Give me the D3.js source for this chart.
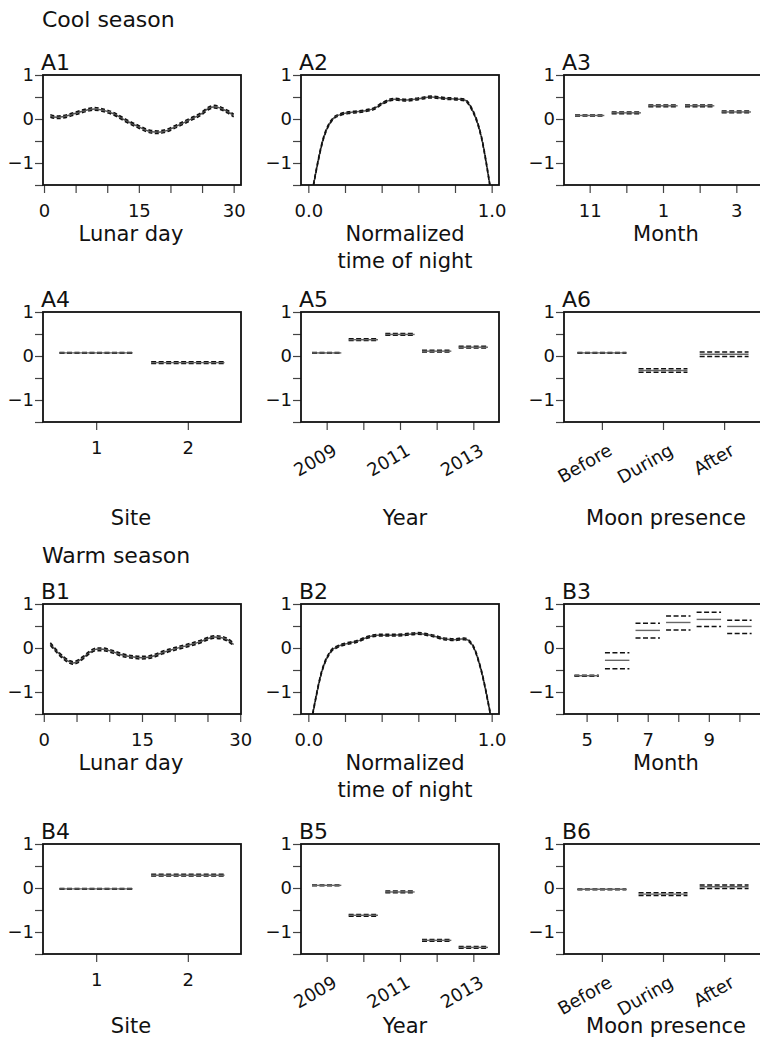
<!DOCTYPE html>
<html>
<head>
<meta charset="utf-8">
<script src="https://cdn.jsdelivr.net/npm/d3@7"></script>
<style>
  body { margin: 0; background: #fff; }
  text { font-family: "DejaVu Sans", sans-serif; fill: #111; }
</style>
</head>
<body>
<script>
// ---- data ----
// shared y axis
var yTicks = [1, 0.5, 0, -0.5, -1, -1.5];
var yLabels = ['1', '', '0', '', '\u22121', ''];

// lunar day panels
var lunarTicks = [0, 5, 10, 15, 20, 25, 30];
var lunarLabels = ['0', '', '', '15', '', '', '30'];
var a1Day = [1, 2, 3, 5, 7, 8, 9, 11, 13, 15, 17, 18, 19, 21, 23, 25, 26, 27, 28, 29, 30];
var a1Fit = [0.07, 0.04, 0.05, 0.13, 0.21, 0.23, 0.21, 0.12, -0.04, -0.18, -0.29, -0.30, -0.28, -0.16, -0.02, 0.13, 0.24, 0.28, 0.24, 0.17, 0.08];
var a1Se = [0.03, 0.03, 0.03, 0.03, 0.03, 0.03, 0.03, 0.03, 0.03, 0.03, 0.03, 0.03, 0.03, 0.03, 0.03, 0.03, 0.03, 0.03, 0.03, 0.03, 0.03];
var b1Day = [1, 2, 3, 4, 4.5, 5, 6, 7, 8, 9, 10, 11, 12, 14, 15, 16, 17, 18, 20, 22, 24, 25, 26, 27, 28, 29];
var b1Fit = [0.09, -0.08, -0.22, -0.32, -0.34, -0.32, -0.22, -0.10, -0.03, -0.03, -0.06, -0.11, -0.16, -0.21, -0.22, -0.21, -0.17, -0.11, -0.02, 0.06, 0.15, 0.21, 0.25, 0.24, 0.19, 0.08];
var b1Se = [0.03, 0.03, 0.03, 0.03, 0.03, 0.03, 0.03, 0.03, 0.03, 0.03, 0.03, 0.03, 0.03, 0.03, 0.03, 0.03, 0.03, 0.03, 0.03, 0.03, 0.03, 0.03, 0.03, 0.03, 0.03, 0.03];

// normalized time of night panels
var timeTicks = [0, 0.2, 0.4, 0.6, 0.8, 1.0];
var timeLabels = ['0.0', '', '', '', '', '1.0'];
var a2Time = [0.028, 0.083, 0.138, 0.174, 0.23, 0.30, 0.36, 0.41, 0.47, 0.54, 0.60, 0.67, 0.74, 0.82, 0.853, 0.89, 0.945, 0.99];
var a2Fit = [-1.5, -0.43, 0.02, 0.10, 0.15, 0.18, 0.24, 0.37, 0.45, 0.43, 0.46, 0.50, 0.47, 0.45, 0.43, 0.24, -0.43, -1.5];
var a2Se = [0.02, 0.02, 0.02, 0.02, 0.02, 0.02, 0.02, 0.02, 0.02, 0.02, 0.02, 0.02, 0.02, 0.02, 0.02, 0.02, 0.02, 0.02];
var b2Time = [0.024, 0.073, 0.128, 0.159, 0.21, 0.265, 0.32, 0.375, 0.45, 0.52, 0.594, 0.667, 0.74, 0.795, 0.85, 0.896, 0.94, 0.993];
var b2Fit = [-1.5, -0.54, -0.05, 0.03, 0.10, 0.15, 0.24, 0.29, 0.29, 0.30, 0.33, 0.29, 0.21, 0.19, 0.21, 0.06, -0.46, -1.5];
var b2Se = [0.02, 0.02, 0.02, 0.02, 0.02, 0.02, 0.02, 0.02, 0.02, 0.02, 0.02, 0.02, 0.02, 0.02, 0.02, 0.02, 0.02, 0.02];

// month
var a3Labels = ['11', '', '1', '', '3'];
var a3Fit = [0.08, 0.14, 0.30, 0.30, 0.16];
var a3Lo = [0.07, 0.12, 0.28, 0.28, 0.14];
var a3Hi = [0.09, 0.16, 0.32, 0.32, 0.18];
var b3Labels = ['5', '', '7', '', '9', ''];
var b3Fit = [-0.63, -0.28, 0.40, 0.58, 0.65, 0.49];
var b3Lo = [-0.64, -0.47, 0.23, 0.41, 0.49, 0.33];
var b3Hi = [-0.62, -0.11, 0.56, 0.73, 0.81, 0.63];

// site
var siteLabels = ['1', '2'];
var a4Fit = [0.07, -0.15];
var a4Lo = [0.06, -0.17];
var a4Hi = [0.08, -0.13];
var b4Fit = [-0.02, 0.29];
var b4Lo = [-0.03, 0.27];
var b4Hi = [-0.01, 0.31];

// year
var yearLabels = ['2009', '', '2011', '', '2013'];
var a5Fit = [0.07, 0.37, 0.49, 0.11, 0.20];
var a5Lo = [0.06, 0.35, 0.47, 0.09, 0.18];
var a5Hi = [0.08, 0.39, 0.51, 0.13, 0.22];
var b5Fit = [0.06, -0.62, -0.09, -1.19, -1.35];
var b5Lo = [0.05, -0.64, -0.11, -1.21, -1.37];
var b5Hi = [0.07, -0.60, -0.07, -1.17, -1.33];

// moon presence
var moonLabels = ['Before', 'During', 'After'];
var a6Fit = [0.07, -0.33, 0.04];
var a6Lo = [0.06, -0.37, -0.01];
var a6Hi = [0.08, -0.29, 0.09];
var b6Fit = [-0.03, -0.14, 0.03];
var b6Lo = [-0.04, -0.17, -0.01];
var b6Hi = [-0.02, -0.11, 0.07];

//general setup
var W = 760, H = 1040;
var colX = [43, 301, 564];
var rowTop = [75, 312, 604, 844];
var boxW = 198, boxH = 110;
var titleOffset = [56, 103, 56, 79];
var titleX = [131, 405, 666];

var svg = d3.select('body').append('svg').attr('width', W).attr('height', H);

var panels = [
  { id: 'A1', col: 0, row: 0, kind: 'curve', xs: a1Day, fit: a1Fit, se: a1Se, dom: [-0.16, 31.16], ticks: lunarTicks, labels: lunarLabels, title: ['Lunar day'] },
  { id: 'A2', col: 1, row: 0, kind: 'curve', xs: a2Time, fit: a2Fit, se: a2Se, dom: [-0.04, 1.04], ticks: timeTicks, labels: timeLabels, title: ['Normalized', 'time of night'] },
  { id: 'A3', col: 2, row: 0, kind: 'cat', fit: a3Fit, lo: a3Lo, hi: a3Hi, labels: a3Labels, title: ['Month'] },
  { id: 'A4', col: 0, row: 1, kind: 'cat', fit: a4Fit, lo: a4Lo, hi: a4Hi, labels: siteLabels, title: ['Site'] },
  { id: 'A5', col: 1, row: 1, kind: 'cat', fit: a5Fit, lo: a5Lo, hi: a5Hi, labels: yearLabels, rotate: true, title: ['Year'] },
  { id: 'A6', col: 2, row: 1, kind: 'cat', fit: a6Fit, lo: a6Lo, hi: a6Hi, labels: moonLabels, rotate: true, title: ['Moon presence'] },
  { id: 'B1', col: 0, row: 2, kind: 'curve', xs: b1Day, fit: b1Fit, se: b1Se, dom: [-0.12, 30.12], ticks: lunarTicks, labels: lunarLabels, title: ['Lunar day'] },
  { id: 'B2', col: 1, row: 2, kind: 'curve', xs: b2Time, fit: b2Fit, se: b2Se, dom: [-0.04, 1.04], ticks: timeTicks, labels: timeLabels, title: ['Normalized', 'time of night'] },
  { id: 'B3', col: 2, row: 2, kind: 'cat', fit: b3Fit, lo: b3Lo, hi: b3Hi, labels: b3Labels, title: ['Month'] },
  { id: 'B4', col: 0, row: 3, kind: 'cat', fit: b4Fit, lo: b4Lo, hi: b4Hi, labels: siteLabels, title: ['Site'] },
  { id: 'B5', col: 1, row: 3, kind: 'cat', fit: b5Fit, lo: b5Lo, hi: b5Hi, labels: yearLabels, rotate: true, title: ['Year'] },
  { id: 'B6', col: 2, row: 3, kind: 'cat', fit: b6Fit, lo: b6Lo, hi: b6Hi, labels: moonLabels, rotate: true, title: ['Moon presence'] }
];

//section titles
svg.append('text').attr('x', 42).attr('y', 27).style('font-size', '22px').text('Cool season');
svg.append('text').attr('x', 42).attr('y', 563).style('font-size', '22px').text('Warm season');

var yScale = d3.scaleLinear().domain([-1.5, 1]).range([boxH, 0]);

panels.forEach(function (p) {
  var g = svg.append('g').attr('transform', 'translate(' + colX[p.col] + ',' + rowTop[p.row] + ')');

  var xScale, tickVals;
  if (p.kind === 'curve') {
    xScale = d3.scaleLinear().domain(p.dom).range([0, boxW]);
    tickVals = p.ticks;
  } else {
    var n = p.fit.length, pad = n * 0.04;
    xScale = d3.scaleLinear().domain([0.5 - pad, n + 0.5 + pad]).range([0, boxW]);
    tickVals = d3.range(1, n + 1);
  }

  //clip
  g.append('clipPath').attr('id', 'clip' + p.id).append('rect').attr('width', boxW).attr('height', boxH);
  var plot = g.append('g').attr('clip-path', 'url(#clip' + p.id + ')');

  if (p.kind === 'curve') {
    var pts = p.xs.map(function (d, i) { return { x: d, f: p.fit[i], lo: p.fit[i] - p.se[i], hi: p.fit[i] + p.se[i] }; });
    var line = function (key) {
      return d3.line().curve(d3.curveMonotoneX).x(function (d) { return xScale(d.x); }).y(function (d) { return yScale(d[key]); });
    };
    plot.append('path').datum(pts).attr('d', line('f')).attr('fill', 'none').attr('stroke', '#555').attr('stroke-width', 1.5);
    ['lo', 'hi'].forEach(function (k) {
      plot.append('path').datum(pts).attr('d', line(k)).attr('fill', 'none').attr('stroke', '#111')
        .attr('stroke-width', 1.5).attr('stroke-dasharray', '4,2.5');
    });
  } else {
    var segs = p.fit.map(function (d, i) { return { c: i + 1, f: d, lo: p.lo[i], hi: p.hi[i] }; });
    ['lo', 'hi'].forEach(function (k) {
      plot.selectAll('.seg' + k).data(segs).enter().append('line')
        .attr('x1', function (d) { return xScale(d.c - 0.4); })
        .attr('x2', function (d) { return xScale(d.c + 0.4); })
        .attr('y1', function (d) { return yScale(d[k]); })
        .attr('y2', function (d) { return yScale(d[k]); })
        .attr('stroke', '#111').attr('stroke-width', 1.5).attr('stroke-dasharray', '5,2.5');
    });
    plot.selectAll('.segf').data(segs).enter().append('line')
      .attr('x1', function (d) { return xScale(d.c - 0.4); })
      .attr('x2', function (d) { return xScale(d.c + 0.4); })
      .attr('y1', function (d) { return yScale(d.f); })
      .attr('y2', function (d) { return yScale(d.f); })
      .attr('stroke', '#666').attr('stroke-width', 1.4);
  }

  //y-axis
  var yAxis = g.append('g').call(d3.axisLeft(yScale).tickValues(yTicks).tickSize(8)
    .tickFormat(function (d, i) { return yLabels[i]; }));
  yAxis.select('.domain').remove();
  yAxis.selectAll('line').attr('stroke', '#444').attr('stroke-width', 1.2);
  yAxis.selectAll('text').attr('x', -9).style('font-size', '18px').style('font-family', '"DejaVu Sans", sans-serif').attr('fill', '#111');

  //x-axis
  var xAxis = g.append('g').attr('transform', 'translate(0,' + boxH + ')')
    .call(d3.axisBottom(xScale).tickValues(tickVals).tickSize(8)
      .tickFormat(function (d, i) { return p.labels[i]; }));
  xAxis.select('.domain').remove();
  xAxis.selectAll('line').attr('stroke', '#444').attr('stroke-width', 1.2);
  var xt = xAxis.selectAll('text').style('font-size', '18px').style('font-family', '"DejaVu Sans", sans-serif').attr('fill', '#111');
  var lblBase = (p.row % 2 === 0) ? 32 : 32;
  if (p.rotate) {
    xt.attr('x', 0).attr('y', 0).attr('dy', 0).style('text-anchor', 'end')
      .attr('transform', 'translate(11,' + lblBase + ') rotate(-30)');
  } else {
    xt.attr('y', lblBase).attr('dy', 0);
  }

  //box
  g.append('rect').attr('width', boxW).attr('height', boxH).attr('fill', 'none')
    .attr('stroke', '#111').attr('stroke-width', 1.8);

  //panel label
  g.append('text').attr('x', -2).attr('y', -5).style('font-size', '22px').text(p.id);

  //axis title
  p.title.forEach(function (t, i) {
    g.append('text').attr('x', titleX[p.col] - colX[p.col]).attr('y', boxH + titleOffset[p.row] + i * 27)
      .attr('text-anchor', 'middle').style('font-size', '21px').text(t);
  });
});
</script>
</body>
</html>
